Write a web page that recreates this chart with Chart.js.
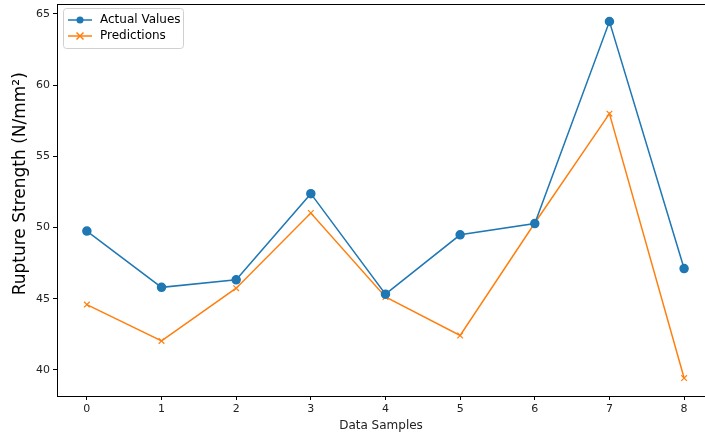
<!DOCTYPE html>
<html><head><meta charset="utf-8">
<script src="https://cdn.jsdelivr.net/npm/chart.js@4/dist/chart.umd.min.js"></script>
<style>html,body{margin:0;padding:0;overflow:hidden;background:#fff;width:705px;height:437px}#wrap{width:705px;height:437px}</style>
</head><body><div id="wrap"><canvas id="c" width="705" height="437"></canvas></div>
<script>
const samples = [0,1,2,3,4,5,6,7,8];
const actualValues = [49.75, 45.8, 46.33, 52.38, 45.32, 49.49, 50.28, 64.47, 47.12];
const predictions = [44.59, 42.04, 45.74, 51.02, 45.13, 42.42, 50.32, 58.0, 39.43];
const yTicks = [40, 45, 50, 55, 60, 65];
const xTicks = [0,1,2,3,4,5,6,7,8];

const BLUE = '#1f77b4', ORANGE = '#ff7f0e';
const font = 'DejaVu Sans';

const frame = {
  id: 'frame',
  afterDraw(chart) {
    const {ctx, chartArea: a} = chart;
    ctx.save();
    ctx.strokeStyle = '#000';
    ctx.lineWidth = 1;
    const ty = Math.round(a.top) + 0.5;
    ctx.beginPath(); ctx.moveTo(a.left, ty); ctx.lineTo(a.right, ty); ctx.stroke();
    // legend inside plot
    const x0 = a.left + 6, y0 = a.top + 4, w = 120, h = 40;
    ctx.fillStyle = 'rgba(255,255,255,0.8)';
    ctx.strokeStyle = '#d0d0d0';
    ctx.beginPath();
    ctx.roundRect(x0 + 0.5, y0 + 0.5, w, h, 3);
    ctx.fill(); ctx.stroke();
    chart.data.datasets.forEach((ds, i) => {
      const cy = y0 + 12 + i * 16;
      ctx.strokeStyle = ds.borderColor;
      ctx.lineWidth = 1.5;
      ctx.beginPath(); ctx.moveTo(x0 + 5, cy); ctx.lineTo(x0 + 29, cy); ctx.stroke();
      const cx = x0 + 17;
      if (ds.pointStyle === 'circle') {
        ctx.fillStyle = ds.pointBackgroundColor;
        ctx.beginPath(); ctx.arc(cx, cy, 3.5, 0, Math.PI * 2); ctx.fill();
      } else {
        ctx.beginPath();
        ctx.moveTo(cx - 3.5, cy - 3.5); ctx.lineTo(cx + 3.5, cy + 3.5);
        ctx.moveTo(cx - 3.5, cy + 3.5); ctx.lineTo(cx + 3.5, cy - 3.5);
        ctx.stroke();
      }
      ctx.fillStyle = '#000';
      ctx.font = '12px "' + font + '"';
      ctx.textBaseline = 'middle';
      ctx.fillText(ds.label, x0 + 37, cy);
    });
    ctx.restore();
  }
};

new Chart(document.getElementById('c'), {
  type: 'line',
  data: {
    datasets: [
      {label: 'Actual Values', data: samples.map((s, i) => ({x: s, y: actualValues[i]})),
       borderColor: BLUE, backgroundColor: BLUE, pointBackgroundColor: BLUE, pointBorderColor: BLUE,
       pointStyle: 'circle', pointRadius: 4, borderWidth: 1.5, tension: 0},
      {label: 'Predictions', data: samples.map((s, i) => ({x: s, y: predictions[i]})),
       borderColor: ORANGE, backgroundColor: ORANGE, pointBackgroundColor: ORANGE, pointBorderColor: ORANGE,
       pointStyle: 'crossRot', pointRadius: 4, pointBorderWidth: 1.2, borderWidth: 1.5, tension: 0}
    ]
  },
  options: {
    responsive: false, animation: false, devicePixelRatio: 1,
    layout: {autoPadding: false, padding: {top: 4, right: 0, left: 0, bottom: 0}},
    plugins: {legend: {display: false}, tooltip: {enabled: false}},
    scales: {
      x: {
        type: 'linear', min: -0.4, max: 8.28,
        afterFit(s) { s.height = 41; s.paddingLeft = 0; s.paddingRight = 0; },
        afterBuildTicks(s) { s.ticks = xTicks.map(v => ({value: v})); },
        grid: {drawOnChartArea: false, drawTicks: true, tickLength: 4, color: '#000'},
        border: {display: true, color: '#000'},
        ticks: {color: '#222', font: {family: font, size: 11}, padding: 3},
        title: {display: true, text: 'Data Samples', color: '#222', font: {family: font, size: 12}, padding: {top: 1}}
      },
      y: {
        min: 38.17, max: 65.7,
        afterFit(s) { s.width = 57; s.paddingTop = 0; s.paddingBottom = 0; },
        afterBuildTicks(s) { s.ticks = yTicks.map(v => ({value: v})); },
        grid: {drawOnChartArea: false, drawTicks: true, tickLength: 4, color: '#000'},
        border: {display: true, color: '#000'},
        ticks: {color: '#222', font: {family: font, size: 11}, padding: 3},
        title: {display: true, text: '      Rupture Strength (N/mm²)', color: '#000', font: {family: font, size: 17}, padding: {top: 10, bottom: 2}}
      }
    }
  },
  plugins: [frame]
});
</script></body></html>
